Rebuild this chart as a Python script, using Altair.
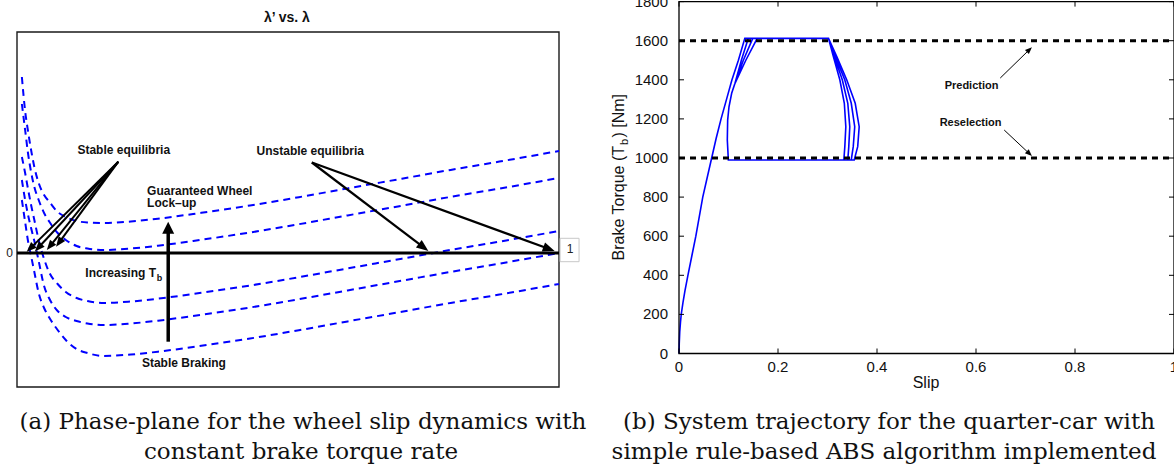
import math
import altair as alt
import pandas as pd

# ---------------- Panel (a): phase plane  lambda' vs lambda ----------------
lam = [0.009, 0.015, 0.02, 0.026, 0.032, 0.04, 0.05, 0.06, 0.075, 0.09, 0.11, 0.13,
       0.16, 0.21, 0.26, 0.34, 0.43, 0.52, 0.61, 0.71, 0.80, 0.89, 1.0]
curve_1 = [1.76, 1.42, 1.23, 1.03, 0.86, 0.70, 0.58, 0.51, 0.41, 0.36, 0.32, 0.305,
           0.30, 0.315, 0.343, 0.402, 0.475, 0.558, 0.646, 0.743, 0.831, 0.914, 1.02]
curve_2 = [1.49, 1.23, 1.01, 0.81, 0.66, 0.53, 0.40, 0.31, 0.20, 0.13, 0.07, 0.045,
           0.03, 0.045, 0.073, 0.132, 0.205, 0.288, 0.376, 0.473, 0.561, 0.644, 0.75]
curve_3 = [0.96, 0.80, 0.65, 0.48, 0.33, 0.13, -0.06, -0.20, -0.31, -0.39, -0.45, -0.48,
           -0.50, -0.485, -0.457, -0.398, -0.325, -0.242, -0.154, -0.057, 0.031, 0.114, 0.22]
curve_4 = [0.73, 0.53, 0.39, 0.25, 0.12, -0.08, -0.33, -0.46, -0.58, -0.64, -0.68, -0.705,
           -0.72, -0.705, -0.677, -0.618, -0.545, -0.462, -0.374, -0.277, -0.189, -0.106, 0.0]
curve_5 = [0.53, 0.31, 0.13, -0.03, -0.19, -0.40, -0.55, -0.65, -0.77, -0.87, -0.96, -1.00,
           -1.03, -1.015, -0.987, -0.928, -0.855, -0.772, -0.684, -0.587, -0.499, -0.416, -0.31]

lam_domain = [0.0, 1.0]
val_domain = [-1.34, 2.21]

stable_from = (0.187, 0.913)
stable_tip_lam = [0.018, 0.033, 0.055, 0.072]
stable_tip_val = [0.012, 0.016, 0.03, 0.063]
unstable_from = (0.544, 0.905)
unstable_tip_lam = [0.759, 0.992]
unstable_tip_val = [0.02, 0.02]
big_arrow_lam = 0.279
big_arrow_from = -0.887
big_arrow_tip = 0.313

a_center_text = ["Stable equilibria", "Unstable equilibria", "Stable Braking"]
a_center_lam = [0.197, 0.541, 0.308]
a_center_val = [1.03, 1.02, -1.10]
a_left_text = ["Guaranteed Wheel", "Lock\u2013up"]
a_left_lam = [0.24, 0.24]
a_left_val = [0.623, 0.50]

# ---------------- Panel (b): trajectory ----------------
traj_slip = [0, 0.0005, 0.0015, 0.003, 0.0045, 0.008, 0.012, 0.018, 0.026, 0.034, 0.041,
             0.048, 0.057, 0.066, 0.075, 0.085, 0.096, 0.107, 0.12, 0.133,
             0.302, 0.312, 0.325, 0.334, 0.337, 0.335, 0.333,
             0.0997, 0.0976, 0.0983, 0.101, 0.1064, 0.1131, 0.126, 0.140,
             0.302, 0.314, 0.330, 0.341, 0.345, 0.343, 0.341,
             0.0997, 0.0976, 0.0983, 0.101, 0.1064, 0.1131, 0.130, 0.149,
             0.302, 0.316, 0.335, 0.348, 0.355, 0.352, 0.348,
             0.0997, 0.0976, 0.0983, 0.101, 0.1064, 0.1131, 0.135, 0.158,
             0.302, 0.319, 0.339, 0.356, 0.364, 0.361, 0.354,
             0.0997]
traj_torque = [0, 50, 110, 160, 200, 260, 320, 400, 500, 600, 700,
               800, 900, 1000, 1100, 1200, 1300, 1400, 1500, 1612,
               1612, 1518, 1399, 1280, 1160, 1058, 990,
               990, 1092, 1194, 1262, 1331, 1382, 1500, 1612,
               1612, 1518, 1399, 1280, 1160, 1058, 990,
               990, 1092, 1194, 1262, 1331, 1382, 1500, 1612,
               1612, 1518, 1399, 1280, 1160, 1058, 990,
               990, 1092, 1194, 1262, 1331, 1382, 1500, 1612,
               1612, 1518, 1399, 1280, 1160, 1058, 990,
               990]
thresholds = [1600, 1000]
slip_domain = [0.0, 1.0]
torque_domain = [0, 1800]
x_ticks = [0, 0.2, 0.4, 0.6, 0.8, 1]
x_tick_labels = ["0", "0.2", "0.4", "0.6", "0.8", "1"]
y_ticks = [0, 200, 400, 600, 800, 1000, 1200, 1400, 1600, 1800]
y_tick_labels = ["0", "200", "400", "600", "800", "1000", "1200", "1400", "1600", "1800"]

b_text = ["Prediction", "Reselection"]
b_slip = [0.591, 0.589]
b_torque = [1370, 1177]
b_arrow_from_slip = [0.649, 0.657]
b_arrow_from_torque = [1409, 1143]
b_arrow_tip_slip = [0.713, 0.713]
b_arrow_tip_torque = [1567, 1010]

caption_a = ["(a) Phase-plane for the wheel slip dynamics with", "constant brake torque rate"]
caption_b = ["(b) System trajectory for the quarter-car with", "simple rule-based ABS algorithm implemented"]

# ---------------- layout (pixel ranges of the two plot areas) ----------------
XL = alt.Scale(domain=lam_domain, range=[17, 559], nice=False, zero=False)
YL = alt.Scale(domain=val_domain, range=[387, 32], nice=False, zero=False)
KXL, KYL = 542.0, 100.0
XR = alt.Scale(domain=slip_domain, range=[679, 1174], nice=False, zero=False)
YR = alt.Scale(domain=torque_domain, range=[353.5, 1.6], nice=False, zero=False)
KXR, KYR = 495.0, 351.9 / 1800.0

SANS = "Liberation Sans, Arial, Helvetica, sans-serif"
HEAD = "M0,0L0.4,1L-0.4,1Z"
HEAD_WIDE = "M0,0L0.5,1L-0.5,1Z"


def arrow_df(starts, tips, kx, ky, head_len):
    rows = []
    for (x1, y1), (x2, y2) in zip(starts, tips):
        dxp = (x2 - x1) * kx
        dyp = -(y2 - y1) * ky
        n = math.hypot(dxp, dyp)
        ux, uy = dxp / n, dyp / n
        back = 0.6 * head_len
        ex = x2 - ux * back / kx
        ey = y2 + uy * back / ky
        ang = math.degrees(math.atan2(dxp, -dyp)) % 360
        rows.append({"x1": x1, "y1": y1, "x2": ex, "y2": ey, "tx": x2, "ty": y2, "ang": ang})
    return pd.DataFrame(rows)


def arrow_layers(df, xs, ys, width, shape, size):
    shaft = alt.Chart(df).mark_rule(color="black", strokeWidth=width).encode(
        x=alt.X("x1:Q", scale=xs, axis=None), y=alt.Y("y1:Q", scale=ys, axis=None),
        x2="x2:Q", y2="y2:Q")
    head = alt.Chart(df).mark_point(shape=shape, size=size, filled=True, color="black",
                                    opacity=1, strokeWidth=0).encode(
        x=alt.X("tx:Q", scale=xs, axis=None), y=alt.Y("ty:Q", scale=ys, axis=None),
        angle=alt.Angle("ang:Q", scale=None))
    return [shaft, head]


# ---------- Panel (a) layers ----------
rows = []
for name, ys in [("1", curve_1), ("2", curve_2), ("3", curve_3), ("4", curve_4), ("5", curve_5)]:
    for l, v in zip(lam, ys):
        rows.append({"curve": name, "lam": l, "val": v})
curves_df = pd.DataFrame(rows)

frame_a = alt.Chart(pd.DataFrame({"x": [lam_domain[0]], "x2": [lam_domain[1]],
                                  "y": [val_domain[0]], "y2": [val_domain[1]]})).mark_rect(
    fillOpacity=0, stroke="#1a1a1a", strokeWidth=1.4).encode(
    x=alt.X("x:Q", scale=XL, axis=None), x2="x2:Q",
    y=alt.Y("y:Q", scale=YL, axis=None), y2="y2:Q")

curves_a = alt.Chart(curves_df).mark_line(color="#0000ff", strokeWidth=2, strokeDash=[7, 5],
                                          interpolate="monotone").encode(
    x=alt.X("lam:Q", scale=XL, axis=None), y=alt.Y("val:Q", scale=YL, axis=None),
    detail="curve:N")

zero_a = alt.Chart(pd.DataFrame({"x": [lam_domain[0]], "x2": [lam_domain[1]], "y": [0.0]})).mark_rule(
    color="black", strokeWidth=3).encode(
    x=alt.X("x:Q", scale=XL, axis=None), x2="x2:Q", y=alt.Y("y:Q", scale=YL, axis=None))

stable_df = arrow_df([stable_from] * len(stable_tip_lam), list(zip(stable_tip_lam, stable_tip_val)),
                     KXL, KYL, 10)
unstable_df = arrow_df([unstable_from] * len(unstable_tip_lam),
                       list(zip(unstable_tip_lam, unstable_tip_val)), KXL, KYL, 12)
big_df = arrow_df([(big_arrow_lam, big_arrow_from)], [(big_arrow_lam, big_arrow_tip)], KXL, KYL, 12)

ann_c = alt.Chart(pd.DataFrame({"t": a_center_text, "x": a_center_lam, "y": a_center_val})).mark_text(
    font=SANS, fontSize=12, fontWeight="bold", align="center", baseline="middle", color="#111").encode(
    x=alt.X("x:Q", scale=XL, axis=None), y=alt.Y("y:Q", scale=YL, axis=None), text="t:N")
ann_l = alt.Chart(pd.DataFrame({"t": a_left_text, "x": a_left_lam, "y": a_left_val})).mark_text(
    font=SANS, fontSize=12, fontWeight="bold", align="left", baseline="middle", color="#111").encode(
    x=alt.X("x:Q", scale=XL, axis=None), y=alt.Y("y:Q", scale=YL, axis=None), text="t:N")
ann_inc = alt.Chart(pd.DataFrame({"t": ["Increasing T"], "x": [0.2565], "y": [-0.20]})).mark_text(
    font=SANS, fontSize=12, fontWeight="bold", align="right", baseline="middle", color="#111").encode(
    x=alt.X("x:Q", scale=XL, axis=None), y=alt.Y("y:Q", scale=YL, axis=None), text="t:N")
ann_sub = alt.Chart(pd.DataFrame({"t": ["b"], "x": [0.258], "y": [-0.25]})).mark_text(
    font=SANS, fontSize=9, fontWeight="bold", align="left", baseline="middle", color="#111").encode(
    x=alt.X("x:Q", scale=XL, axis=None), y=alt.Y("y:Q", scale=YL, axis=None), text="t:N")
title_a = alt.Chart(pd.DataFrame({"t": ["\u03bb\u2019 vs. \u03bb"], "x": [0.498], "y": [2.35]})).mark_text(
    font=SANS, fontSize=14, fontWeight="bold", align="center", baseline="middle", color="#111").encode(
    x=alt.X("x:Q", scale=XL, axis=None), y=alt.Y("y:Q", scale=YL, axis=None), text="t:N")
zero_lab = alt.Chart(pd.DataFrame({"t": ["0"], "x": [-0.0074], "y": [0.005]})).mark_text(
    font=SANS, fontSize=12, align="right", baseline="middle", color="#222").encode(
    x=alt.X("x:Q", scale=XL, axis=None), y=alt.Y("y:Q", scale=YL, axis=None), text="t:N")
one_box = alt.Chart(pd.DataFrame({"x": [1.002], "x2": [1.037], "y": [-0.087], "y2": [0.147]})).mark_rect(
    fill="white", stroke="#c8c8c8", strokeWidth=1).encode(
    x=alt.X("x:Q", scale=XL, axis=None), x2="x2:Q", y=alt.Y("y:Q", scale=YL, axis=None), y2="y2:Q")
one_lab = alt.Chart(pd.DataFrame({"t": ["1"], "x": [1.0203], "y": [0.037]})).mark_text(
    font=SANS, fontSize=12, align="center", baseline="middle", color="#222").encode(
    x=alt.X("x:Q", scale=XL, axis=None), y=alt.Y("y:Q", scale=YL, axis=None), text="t:N")

panel_a = alt.layer(
    frame_a, curves_a, zero_a,
    *arrow_layers(stable_df, XL, YL, 2, HEAD, 400),
    *arrow_layers(unstable_df, XL, YL, 2.2, HEAD, 576),
    *arrow_layers(big_df, XL, YL, 3.5, HEAD_WIDE, 576),
    ann_c, ann_l, ann_inc, ann_sub, title_a, zero_lab, one_box, one_lab)

# ---------- Panel (b) layers ----------
traj_df = pd.DataFrame({"slip": traj_slip, "torque": traj_torque, "order": range(len(traj_slip))})
traj = alt.Chart(traj_df).mark_line(color="#0000ff", strokeWidth=1.6).encode(
    x=alt.X("slip:Q", scale=XR, axis=None), y=alt.Y("torque:Q", scale=YR, axis=None), order="order:Q")

frame_b = alt.Chart(pd.DataFrame({"x": [slip_domain[0]], "x2": [slip_domain[1]],
                                  "y": [torque_domain[0]], "y2": [torque_domain[1]]})).mark_rect(
    fillOpacity=0, stroke="black", strokeWidth=1.3).encode(
    x=alt.X("x:Q", scale=XR, axis=None), x2="x2:Q", y=alt.Y("y:Q", scale=YR, axis=None), y2="y2:Q")

tick_len_t = 5 / KYR
tick_len_s = 5 / KXR
tick_rows = []
for v in x_ticks:
    tick_rows.append({"x": v, "x2": v, "y": torque_domain[0], "y2": torque_domain[0] + tick_len_t})
    tick_rows.append({"x": v, "x2": v, "y": torque_domain[1] - tick_len_t, "y2": torque_domain[1]})
for v in y_ticks:
    tick_rows.append({"x": slip_domain[0], "x2": slip_domain[0] + tick_len_s, "y": v, "y2": v})
    tick_rows.append({"x": slip_domain[1] - tick_len_s, "x2": slip_domain[1], "y": v, "y2": v})
ticks_b = alt.Chart(pd.DataFrame(tick_rows)).mark_rule(color="black", strokeWidth=1).encode(
    x=alt.X("x:Q", scale=XR, axis=None), x2="x2:Q", y=alt.Y("y:Q", scale=YR, axis=None), y2="y2:Q")

xlabels_b = alt.Chart(pd.DataFrame({"v": x_ticks, "t": x_tick_labels,
                                    "y": [torque_domain[0]] * len(x_ticks)})).mark_text(
    font=SANS, fontSize=15, align="center", baseline="middle", dy=13, color="#111").encode(
    x=alt.X("v:Q", scale=XR, axis=None), y=alt.Y("y:Q", scale=YR, axis=None), text="t:N")
ylabels_b = alt.Chart(pd.DataFrame({"v": y_ticks, "t": y_tick_labels,
                                    "x": [slip_domain[0]] * len(y_ticks)})).mark_text(
    font=SANS, fontSize=15, align="right", baseline="middle", dx=-11, color="#111").encode(
    x=alt.X("x:Q", scale=XR, axis=None), y=alt.Y("v:Q", scale=YR, axis=None), text="t:N")

thr = alt.Chart(pd.DataFrame({"x": [slip_domain[0]] * 2, "x2": [slip_domain[1]] * 2, "y": thresholds})).mark_rule(
    color="black", strokeWidth=3, strokeDash=[6, 5]).encode(
    x=alt.X("x:Q", scale=XR, axis=None), x2="x2:Q", y=alt.Y("y:Q", scale=YR, axis=None))

b_arrows = arrow_df(list(zip(b_arrow_from_slip, b_arrow_from_torque)),
                    list(zip(b_arrow_tip_slip, b_arrow_tip_torque)), KXR, KYR, 7)
b_ann = alt.Chart(pd.DataFrame({"t": b_text, "x": b_slip, "y": b_torque})).mark_text(
    font=SANS, fontSize=11, fontWeight="bold", align="center", baseline="middle", color="#111").encode(
    x=alt.X("x:Q", scale=XR, axis=None), y=alt.Y("y:Q", scale=YR, axis=None), text="t:N")

panel_b = alt.layer(traj, frame_b, ticks_b, thr, xlabels_b, ylabels_b,
                    *arrow_layers(b_arrows, XR, YR, 1, HEAD, 196), b_ann)

# ---------- axis titles and captions ----------
def txt(t, x, y, size, font=SANS, align="center", angle=0, weight="normal"):
    return alt.Chart(pd.DataFrame({"t": [t]})).mark_text(
        font=font, fontSize=size, align=align, baseline="middle", angle=angle,
        fontWeight=weight, color="#111").encode(
        x=alt.value(x), y=alt.value(y), text="t:N")

ylab1 = txt("Brake Torque (T", 619, 146, 16, align="right", angle=270)
ylab2 = txt("b", 625, 145, 11, align="left", angle=270)
ylab3 = txt(") [Nm]", 619, 137.5, 16, align="left", angle=270)
xlab = txt("Slip", 926, 383, 16)

SERIF = "DejaVu Serif, serif"
cap = [txt(caption_a[0], 303, 422, 23, font=SERIF),
       txt(caption_a[1], 301, 452, 23, font=SERIF),
       txt(caption_b[0], 889, 422, 23, font=SERIF),
       txt(caption_b[1], 884, 452, 23, font=SERIF)]

chart = alt.layer(panel_a, panel_b, ylab1, ylab2, ylab3, xlab, *cap).resolve_scale(
    x="independent", y="independent").properties(
    width=1174, height=467, autosize=alt.AutoSizeParams(type="none"), padding=0,
    background="white").configure_view(strokeWidth=0)

chart.save("out.html", embed_options={"renderer": "svg", "actions": False})
